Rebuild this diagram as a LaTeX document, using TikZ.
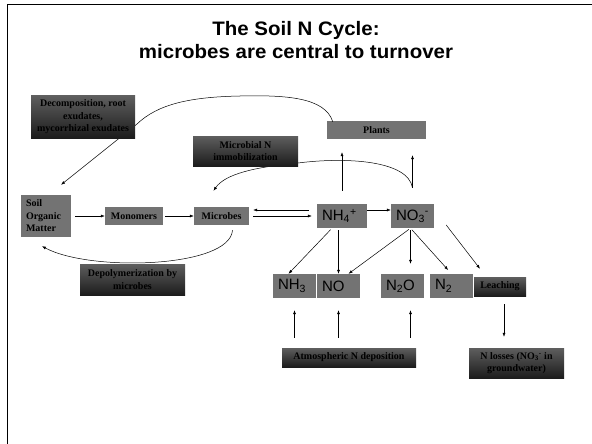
\documentclass[tikz,border=0pt]{standalone}
\usepackage{fontspec}
\setmainfont{Liberation Serif}
\newfontfamily\chemfont{Liberation Sans}
\newfontfamily\titlefont[FakeStretch=1.05]{Liberation Sans}
\usetikzlibrary{arrows.meta}
\definecolor{flatgray}{HTML}{737373}
\definecolor{shadetop}{HTML}{5E5E5E}
\definecolor{shadebot}{HTML}{1C1C1C}

\begin{document}
\begin{tikzpicture}[x=1pt,y=-1pt,
  >={Latex[length=4pt,width=3pt]},
  flow/.style={->,line width=0.5pt},
  flatbox/.style={fill=flatgray,inner sep=0pt,font=\fontsize{10}{12.5}\selectfont\bfseries,align=center},
  shadebox/.style={top color=shadetop,bottom color=shadebot,inner sep=0pt,font=\fontsize{10}{12.5}\selectfont\bfseries,align=center},
  formula/.style={fill=flatgray,inner xsep=5pt,inner ysep=0pt,minimum height=24pt,align=left,font=\chemfont\fontsize{15}{18}\selectfont}]
\useasboundingbox (0,0) rectangle (592,444);
\draw[line width=1.6pt] (7.5,444) -- (7.5,4.5) -- (592,4.5);

\node[font=\titlefont\bfseries\fontsize{19.5}{23}\selectfont, align=center] (title) at (296,40) {The Soil N Cycle:\\microbes are central to turnover};

\node[flatbox, minimum width=99pt, minimum height=18pt] (plants) at (376.5,130) {Plants};
\node[flatbox, minimum width=50pt, minimum height=42pt, text width=40pt, inner xsep=5pt, align=left] (som) at (46,216) {Soil\\Organic\\Matter};
\node[flatbox, minimum width=58pt, minimum height=18pt] (mono) at (134,216) {Monomers};
\node[flatbox, minimum width=55pt, minimum height=18pt] (mic) at (221.5,216) {Microbes};
\node[formula, text width=40pt] (nh4) at (342,216) {NH\textsubscript{4}\textsuperscript{+}};
\node[formula, text width=33pt] (no3) at (412.5,216) {NO\textsubscript{3}\textsuperscript{-}};
\node[formula, text width=33pt] (nh3) at (294.5,286) {NH\textsubscript{3}};
\node[formula, text width=33pt] (no) at (338.5,286) {NO};
\node[formula, text width=33pt] (ntwoo) at (402.5,286) {N\textsubscript{2}O};
\node[formula, text width=33pt] (ntwo) at (451.5,286) {N\textsubscript{2}};
\node[shadebox, minimum width=52pt, minimum height=19pt] (leach) at (500,286.5) {Leaching};
\node[shadebox, minimum width=134pt, minimum height=19pt] (atm) at (349,357.5) {Atmospheric N deposition};
\node[shadebox, minimum width=95pt, minimum height=30pt] (loss) at (516.5,363) {N losses (NO\textsubscript{3}\textsuperscript{-} in\\groundwater)};
\node[shadebox, minimum width=105pt, minimum height=31pt] (depol) at (132.5,279.5) {Depolymerization by\\microbes};

\coordinate (no3up) at ([yshift=16pt]no3.north);
\coordinate (no3down) at ([xshift=-2pt]no3.south);
\coordinate (ntwooup) at ([xshift=8pt]ntwoo.south);
\coordinate (leachdown) at ([xshift=4pt]leach.south);

% curves, partly hidden by the boxes drawn after them
\draw[flow] ([xshift=6pt,yshift=-1pt]plants.north west) .. controls (325,97) and (285,95) .. (240,96)
  .. controls (190,97) and (158,104) .. (137,124) -- ([xshift=15pt,yshift=10pt]som.north);
\draw[flow] (no3up) .. controls (408,160) and (345,157) .. (298,163)
  .. controls (255,167) and (225,174) .. ([xshift=-8pt,yshift=16pt]mic.north);
\draw[flow] ([xshift=11pt,yshift=-5pt]mic.south) .. controls (230,268) and (90,272) .. ([xshift=-4pt,yshift=-9pt]som.south);

\node[shadebox, minimum width=104pt, minimum height=42pt] (dec) at (83,117) {Decomposition, root\\exudates,\\mycorrhizal exudates};
\node[shadebox, minimum width=105pt, minimum height=30pt] (immob) at (245.5,151) {Microbial N\\immobilization};

\draw[flow, shorten <=4pt] (som.east) -- (mono.west);
\draw[flow, shorten <=2pt] (mono.east) -- (mic.west);
\draw[flow, shorten <=8pt, shorten >=4pt] ([yshift=6pt]nh4.west) -- ([yshift=6pt]mic.east);
\draw[flow, shorten <=4pt, shorten >=5pt] (mic.east) -- (nh4.west);
\draw[flow] ([yshift=6pt]nh4.east) -- ([yshift=6pt]no3.west);
\draw[flow, shorten <=13pt, shorten >=13pt] (nh4.north) -- (nh4.north |- plants.south);
\draw[flow, shorten >=16pt] (no3up) -- (no3up |- plants.south);

\draw[flow, shorten <=2pt] ([xshift=-10pt]nh4.south) -- ([xshift=-6pt]nh3.north);
\draw[flow, shorten <=2pt] (no.north |- nh4.south) -- (no.north);
\draw[flow, shorten <=2pt] (no3down) -- ([xshift=10pt]no.north);
\draw[flow, shorten <=2pt, shorten >=10pt] (no3down) -- (no3down |- ntwoo.north);
\draw[flow, shorten <=2pt, shorten >=5pt] (no3down) -- (ntwo.north);
\draw[flow] ([xshift=12pt,yshift=-9pt]no3.east) -- ([xshift=-20pt,yshift=8pt]leach.north);

\draw[flow, shorten <=10pt, shorten >=12pt] (nh3.south |- atm.north) -- (nh3.south);
\draw[flow, shorten <=10pt, shorten >=12pt] (no.south |- atm.north) -- (no.south);
\draw[flow, shorten <=10pt, shorten >=12pt] (ntwooup |- atm.north) -- (ntwooup);
\draw[flow, shorten <=8pt, shorten >=11pt] (leachdown) -- (leachdown |- loss.north);
\end{tikzpicture}
\end{document}
